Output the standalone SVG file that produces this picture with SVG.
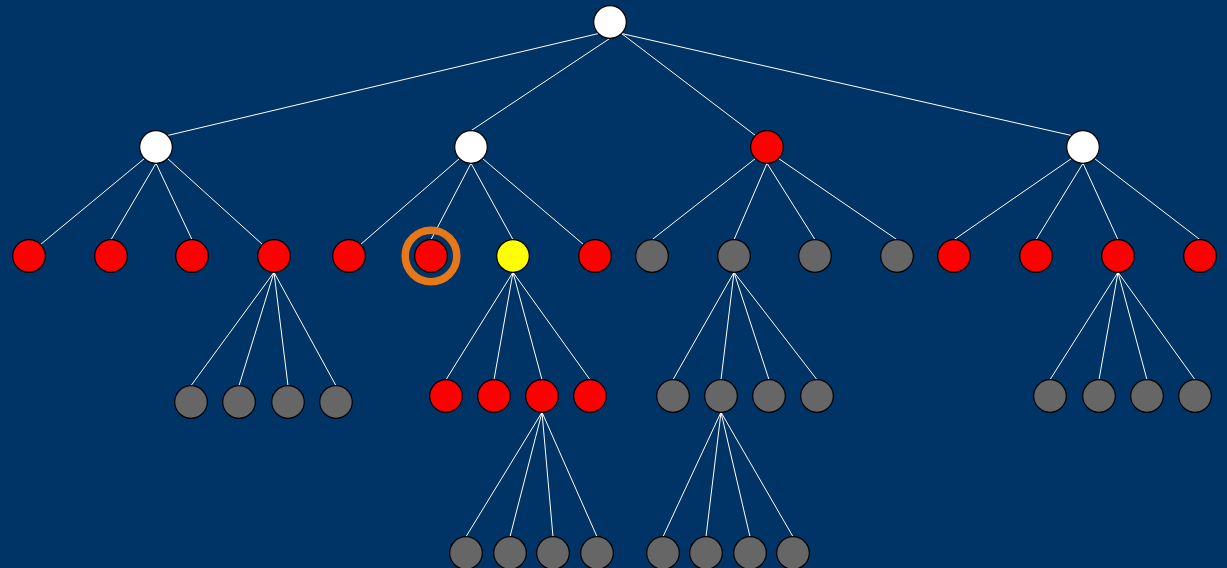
<svg xmlns="http://www.w3.org/2000/svg" width="1227" height="568" viewBox="0 0 1227 568">
<style>
.e{stroke:#ffffff;stroke-width:1;fill:none}
.n{stroke:#000000;stroke-width:1.2}
.w{fill:#ffffff}
.r{fill:#ff0000}
.y{fill:#ffff00}
.g{fill:#666666}
.ring{fill:none;stroke:#e87817;stroke-width:7.5}
</style>
<rect width="1227" height="568" fill="#003366"/>
<g id="connectors">
<path class="e" d="M598.5 33.5L167.5 135.5M610 38.3L471 130.7M621.5 33.5L755.5 135.5M621.5 33.5L1071.5 135.5"/>
<path class="e" d="M144.5 158.5L40.5 244.5M156 163.3L111 239.7M156 163.3L192 239.7M167.5 158.5L262.5 244.5"/>
<path class="e" d="M459.5 158.5L360.5 244.5M471 163.3L431 239.7M471 163.3L513 239.7M482.5 158.5L583.5 244.5"/>
<path class="e" d="M755.5 158.5L652 239.7M767 163.3L734 239.7M767 163.3L815 239.7M778.5 158.5L897 239.7"/>
<path class="e" d="M1071.5 158.5L954 239.7M1083 163.3L1036 239.7M1083 163.3L1118 239.7M1094.5 158.5L1200 239.7"/>
<path class="e" d="M274 272.3L191 385.7M274 272.3L239 385.7M274 272.3L288 385.7M274 272.3L336 385.7"/>
<path class="e" d="M513 272.3L446 379.7M513 272.3L494 379.7M513 272.3L542 379.7M513 272.3L590 379.7"/>
<path class="e" d="M734 272.3L673 379.7M734 272.3L721 379.7M734 272.3L769 379.7M734 272.3L817 379.7"/>
<path class="e" d="M1118 272.3L1050 379.7M1118 272.3L1099 379.7M1118 272.3L1147 379.7M1118 272.3L1195 379.7"/>
<path class="e" d="M542 412.3L466 536.7M542 412.3L510 536.7M542 412.3L553 536.7M542 412.3L597 536.7"/>
<path class="e" d="M721 412.3L663 536.7M721 412.3L706 536.7M721 412.3L750 536.7M721 412.3L793 536.7"/>
</g>
<g id="root"><circle class="n w" cx="610" cy="22" r="16.3"/></g>
<g id="a"><circle class="n w" cx="156" cy="147" r="16.3"/></g>
<g id="b"><circle class="n w" cx="471" cy="147" r="16.3"/></g>
<g id="c"><circle class="n r" cx="767" cy="147" r="16.3"/></g>
<g id="d"><circle class="n w" cx="1083" cy="147" r="16.3"/></g>
<g id="a1"><circle class="n r" cx="29" cy="256" r="16.3"/></g>
<g id="a2"><circle class="n r" cx="111" cy="256" r="16.3"/></g>
<g id="a3"><circle class="n r" cx="192" cy="256" r="16.3"/></g>
<g id="a4"><circle class="n r" cx="274" cy="256" r="16.3"/></g>
<g id="b1"><circle class="n r" cx="349" cy="256" r="16.3"/></g>
<g id="b2"><circle class="ring" cx="431" cy="256" r="25.8"/><circle class="n r" cx="431" cy="256" r="16.3"/></g>
<g id="b3"><circle class="n y" cx="513" cy="256" r="16.3"/></g>
<g id="b4"><circle class="n r" cx="595" cy="256" r="16.3"/></g>
<g id="c1"><circle class="n g" cx="652" cy="256" r="16.3"/></g>
<g id="c2"><circle class="n g" cx="734" cy="256" r="16.3"/></g>
<g id="c3"><circle class="n g" cx="815" cy="256" r="16.3"/></g>
<g id="c4"><circle class="n g" cx="897" cy="256" r="16.3"/></g>
<g id="d1"><circle class="n r" cx="954" cy="256" r="16.3"/></g>
<g id="d2"><circle class="n r" cx="1036" cy="256" r="16.3"/></g>
<g id="d3"><circle class="n r" cx="1118" cy="256" r="16.3"/></g>
<g id="d4"><circle class="n r" cx="1200" cy="256" r="16.3"/></g>
<g id="a4-1"><circle class="n g" cx="191" cy="402" r="16.3"/></g>
<g id="a4-2"><circle class="n g" cx="239" cy="402" r="16.3"/></g>
<g id="a4-3"><circle class="n g" cx="288" cy="402" r="16.3"/></g>
<g id="a4-4"><circle class="n g" cx="336" cy="402" r="16.3"/></g>
<g id="b3-1"><circle class="n r" cx="446" cy="396" r="16.3"/></g>
<g id="b3-2"><circle class="n r" cx="494" cy="396" r="16.3"/></g>
<g id="b3-3"><circle class="n r" cx="542" cy="396" r="16.3"/></g>
<g id="b3-4"><circle class="n r" cx="590" cy="396" r="16.3"/></g>
<g id="c2-1"><circle class="n g" cx="673" cy="396" r="16.3"/></g>
<g id="c2-2"><circle class="n g" cx="721" cy="396" r="16.3"/></g>
<g id="c2-3"><circle class="n g" cx="769" cy="396" r="16.3"/></g>
<g id="c2-4"><circle class="n g" cx="817" cy="396" r="16.3"/></g>
<g id="d3-1"><circle class="n g" cx="1050" cy="396" r="16.3"/></g>
<g id="d3-2"><circle class="n g" cx="1099" cy="396" r="16.3"/></g>
<g id="d3-3"><circle class="n g" cx="1147" cy="396" r="16.3"/></g>
<g id="d3-4"><circle class="n g" cx="1195" cy="396" r="16.3"/></g>
<g id="b33-1"><circle class="n g" cx="466" cy="553" r="16.3"/></g>
<g id="b33-2"><circle class="n g" cx="510" cy="553" r="16.3"/></g>
<g id="b33-3"><circle class="n g" cx="553" cy="553" r="16.3"/></g>
<g id="b33-4"><circle class="n g" cx="597" cy="553" r="16.3"/></g>
<g id="c22-1"><circle class="n g" cx="663" cy="553" r="16.3"/></g>
<g id="c22-2"><circle class="n g" cx="706" cy="553" r="16.3"/></g>
<g id="c22-3"><circle class="n g" cx="750" cy="553" r="16.3"/></g>
<g id="c22-4"><circle class="n g" cx="793" cy="553" r="16.3"/></g>
</svg>
